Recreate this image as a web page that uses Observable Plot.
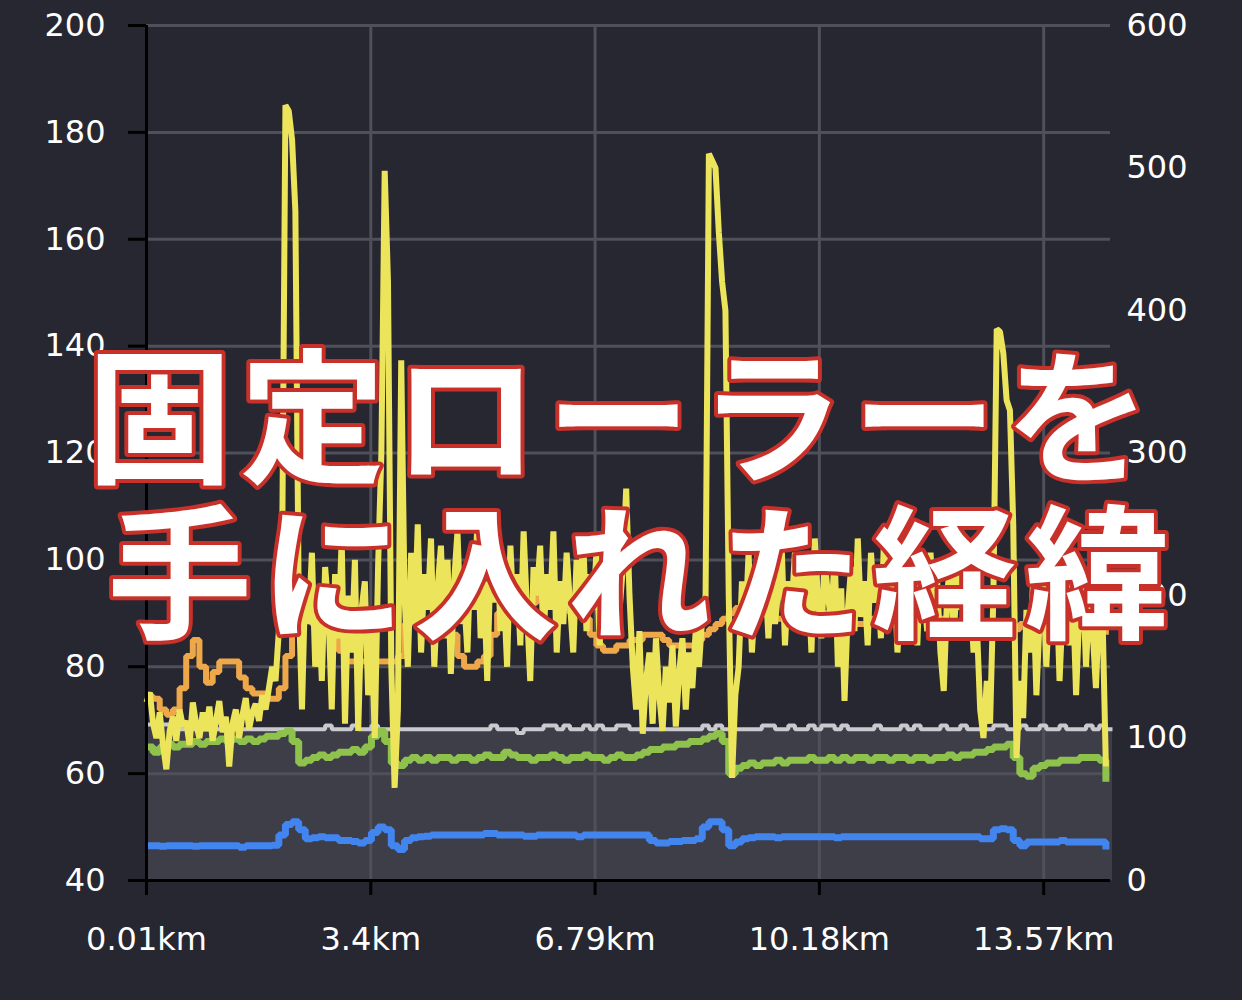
<!DOCTYPE html>
<html><head><meta charset="utf-8">
<script src="https://cdn.jsdelivr.net/npm/d3@7"></script>
<script src="https://cdn.jsdelivr.net/npm/@observablehq/plot@0.6"></script>
<style>html,body{margin:0;padding:0;background:#272731;}#chart{width:1242px;height:1000px;}</style>
</head><body><div id="chart"></div>
<script>
const xTicks = [0.01, 3.4, 6.79, 10.18, 13.57];
const leftTicks = [40, 60, 80, 100, 120, 140, 160, 180, 200];
const rightTicks = [0, 100, 200, 300, 400, 500, 600];
const titleLines = ["固定ローラーを", "手に入れた経緯"];
const distStart = 0.01;
const powerStep = 0.05;
const seriesStep = 0.1;

// power (W, right axis), one value every 0.05 km
const power = [
125,132,110,100,118,95,78,105,115,98,
120,108,112,95,125,110,100,118,105,122,
98,112,126,104,115,80,110,120,100,116,
128,106,118,124,112,130,120,135,150,140,
175,230,544,540,520,470,200,120,210,180,
230,150,200,140,220,190,120,215,170,240,
110,200,160,225,105,190,210,130,180,100,
220,300,498,420,150,65,120,365,200,150,
230,180,250,160,215,190,240,150,205,235,
170,225,145,210,245,180,200,160,230,190,
250,170,210,140,225,195,240,175,205,150,
235,185,215,165,245,190,140,220,200,235,
170,215,190,245,160,210,180,230,195,160,
225,200,240,175,215,190,230,165,210,185,
235,170,205,190,220,275,200,150,120,175,
103,140,160,110,170,130,105,150,125,165,
108,145,170,120,160,135,175,150,185,200,
510,505,500,455,420,400,200,72,130,150,
210,175,230,160,200,240,185,215,170,225,
180,205,235,165,210,190,230,175,220,185,
215,160,240,195,170,225,200,180,230,150,
205,126,190,220,175,240,185,210,165,230,
195,215,170,245,185,205,225,160,200,180,
235,190,215,165,225,200,175,230,185,210,
160,133,200,225,170,215,190,235,175,205,
160,180,120,100,140,110,200,387,385,370,
337,330,250,86,140,114,190,160,210,130,
185,220,150,200,175,215,140,195,230,165,
205,130,190,215,150,200,175,135,195,185,
80
];

// left-axis series, one value every 0.1 km
const cadence = [
74.5,74,72,71,72,76,82,85,80,77,
79,81,81,81,78,76,75,75,74,74,
76,82,90,89,89,88,87,88,86,83,
81,81,81,81,81,81,81,81,82,88,
94,95,94,93,92,90,86,82,80,80,
81,82,86,90,92,93,93,92,92,93,
92,92,91,91,90,90,89,86,84,83,
83,84,84,85,85,86,86,86,85,84,
84,84,84,85,86,87,88,89,90,91,
91,91,90,90,90,89,89,89,89,89,
89,89,90,90,89,88,88,88,88,89,
89,89,89,89,90,90,90,89,89,89,
89,88,88,88,88,88,88,88,88,88,
87,87,88,88,88,88,88,87,87,87,
87,87,87,87,87,86
];

const heartRate = [
65,64,65,65.5,65,65.5,65.5,66,65.5,66,
66,66.5,66,66.5,66,66.5,66,66.5,67,67,
67.5,68,66,62,62.5,63,63.5,63,63.5,64,
64,64.5,64,65,67,68,66,62,61.5,62.5,
63,62.5,63,62.5,63,63,62.5,63,63,62.5,
63,63.5,63,63,64,63.5,63,63,62.5,63,
63,63.5,63,62.5,63,63,63.5,63,63,62.5,
63,63.5,63,63,63.5,64,64.5,64.5,65,65,
65.5,65.5,66,66,66.5,67,67.5,66,60,61,
61.5,62,61.5,62,62,62.5,62,62.5,62.5,62.5,
63,62.5,62.5,63,62.5,63,62.5,63,63,62.5,
63,63,62.5,63,63,62.5,63,63,62.5,63,
63,63.5,63,63.5,63.5,64,64,64.5,65,65,
65.5,63,60,59.5,61,61.5,62,62,62.5,62.5,
62.5,63,63,63,62.5,58.5
];

const speed = [
46.5,46.5,46.4,46.5,46.5,46.5,46.5,46.4,46.5,46.5,
46.5,46.5,46.5,46.5,46.2,46.5,46.5,46.5,46.5,46.6,
48.5,50.5,51.0,49.5,47.8,48.0,48.2,48.0,48.0,47.5,
47.5,47.3,47.0,47.5,49.0,50.0,49.5,46.5,45.8,47.5,
48.0,48.2,48.3,48.5,48.5,48.5,48.5,48.5,48.5,48.5,
48.5,48.8,48.8,48.5,48.5,48.5,48.5,48.3,48.3,48.5,
48.5,48.5,48.5,48.5,48.5,48.2,48.5,48.5,48.5,48.5,
48.5,48.5,48.5,48.5,48.5,48.5,47.5,47.0,47.0,47.3,
47.3,47.5,47.5,47.8,50.0,51.0,51.0,49.5,46.5,47.2,
47.8,48.0,48.2,48.2,48.2,48.0,48.2,48.2,48.2,48.2,
48.2,48.2,48.2,48.2,48.0,48.2,48.2,48.2,48.2,48.2,
48.2,48.2,48.2,48.2,48.2,48.2,48.2,48.2,48.2,48.2,
48.2,48.2,48.2,48.2,48.2,48.2,47.8,47.8,49.5,49.7,
49.5,47.5,46.5,47.2,47.2,47.2,47.2,47.2,47.5,47.2,
47.2,47.2,47.2,47.2,47.2,45.8
];

const elevation = [
69.2,69.2,69.2,69.2,69.2,68.3,68.3,68.3,68.3,68.3,
68.3,68.3,68.3,68.3,68.3,68.3,68.3,68.3,68.3,68.3,
68.3,68.3,68.3,68.3,68.3,68.3,68.3,69.0,68.3,68.3,
68.3,69.0,68.3,68.3,69.0,68.3,68.3,68.3,68.3,68.3,
68.3,68.3,68.3,68.3,68.3,68.3,68.3,68.3,68.3,68.3,
68.3,68.3,69.0,68.3,68.3,68.3,67.6,68.3,68.3,68.3,
69.0,69.0,68.3,69.0,68.3,68.3,69.0,68.3,69.0,68.3,
68.3,69.0,69.0,68.3,68.3,68.3,68.3,68.3,68.3,68.3,
68.3,68.3,68.3,68.3,69.0,68.3,69.0,68.3,68.3,68.3,
68.3,68.3,68.3,69.0,69.0,68.3,68.3,69.0,68.3,68.3,
69.0,68.3,69.0,69.0,68.3,69.0,68.3,68.3,68.3,68.3,
69.0,68.3,68.3,68.3,69.0,68.3,69.0,68.3,68.3,68.3,
69.0,68.3,68.3,69.0,68.3,68.3,68.3,68.3,69.0,69.0,
68.3,68.3,69.0,68.3,68.3,69.0,68.3,68.3,69.0,68.3,
68.3,68.3,69.0,68.3,69.0,68.3,68.3
];

const toLeft = w => 40 + w * 160 / 600;
const toRight = v => Math.round((v - 40) * 600 / 160);
const rows = (arr, step, f = v => v) => arr.map((v, i) => ({km: distStart + i * step, v: f(v)}));

const lineOpts = {x: "km", y: "v", strokeLinejoin: "miter", strokeLinecap: "butt"};
const titleOpts = {
  frameAnchor: "top", fontSize: 145, fontFamily: "Noto Sans CJK JP", fontWeight: "bold",
  fill: "white", stroke: "#c8302a", strokeWidth: 8, paintOrder: "stroke", strokeLinejoin: "round"
};
const gridColor = "#50505b";

const chart = Plot.plot({
  width: 1242, height: 1000,
  marginLeft: 146, marginRight: 132, marginTop: 25, marginBottom: 120,
  x: {domain: [0.01, 14.58]},
  y: {domain: [40, 200]},
  style: {background: "#272731", color: "white", fontFamily: "DejaVu Sans", fontSize: "32px"},
  marks: [
    Plot.areaY(rows(elevation, seriesStep), {x: "km", y1: 40, y2: "v", curve: "step-after", fill: "#3e3e48"}),
    Plot.gridY(leftTicks, {stroke: gridColor, strokeOpacity: 1, strokeWidth: 3}),
    Plot.gridX(xTicks.slice(1), {stroke: gridColor, strokeOpacity: 1, strokeWidth: 3}),
    Plot.line(rows(elevation, seriesStep), {...lineOpts, curve: "step-after", stroke: "#c9c9cf", strokeWidth: 4}),
    Plot.line(rows(speed, seriesStep), {...lineOpts, curve: "step-after", stroke: "#4285ee", strokeWidth: 7}),
    Plot.line(rows(heartRate, seriesStep), {...lineOpts, curve: "step-after", stroke: "#8fc24c", strokeWidth: 7}),
    Plot.line(rows(cadence, seriesStep), {...lineOpts, curve: "step-after", stroke: "#eea84a", strokeWidth: 6}),
    Plot.line(rows(power, powerStep, toLeft), {...lineOpts, curve: "linear", stroke: "#ece45a", strokeWidth: 6}),
    Plot.ruleY([40], {stroke: "black", strokeWidth: 3}),
    Plot.ruleX([0.01], {stroke: "black", strokeWidth: 3}),
    Plot.axisY(leftTicks, {anchor: "left", tickSize: 18, tickPadding: 23, stroke: "black", strokeWidth: 3, fill: "white", label: null}),
    Plot.axisY(rightTicks.map(toLeft), {anchor: "right", tickSize: 0, tickPadding: 16, tickFormat: toRight, fill: "white", label: null}),
    Plot.axisX(xTicks, {anchor: "bottom", tickSize: 15, tickPadding: 32, tickFormat: d => d + "km", stroke: "black", strokeWidth: 3, fill: "white", label: null}),
    Plot.text([titleLines[0]], {...titleOpts, text: d => d, dx: -6, dy: 344}),
    Plot.text([titleLines[1]], {...titleOpts, text: d => d, dx: 14, dy: 500})
  ]
});
d3.select(chart).selectAll("text").filter(function() { return /[固手]/.test(this.textContent); }).attr("letter-spacing", 8);
document.getElementById("chart").append(chart);
</script>
</body></html>
